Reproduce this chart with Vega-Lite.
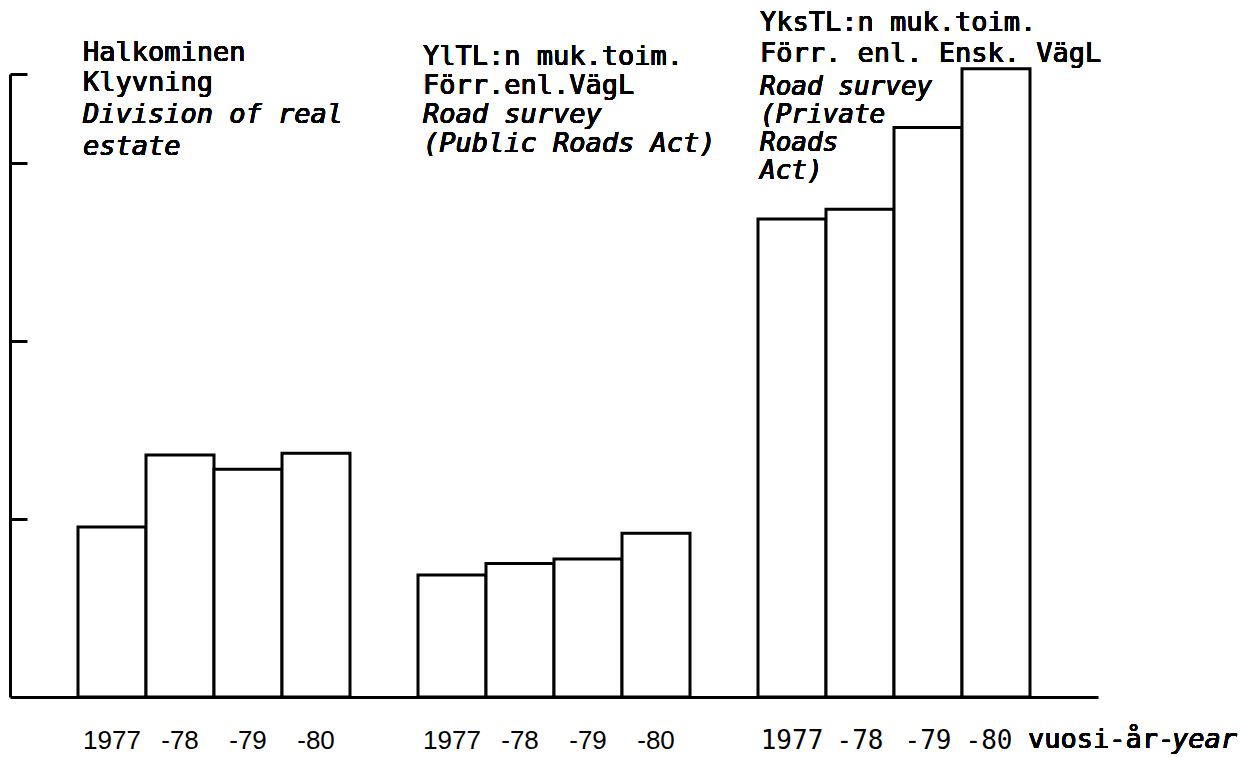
{
  "$schema": "https://vega.github.io/schema/vega-lite/v6.json",
  "autosize": "none",
  "width": 1088,
  "height": 623,
  "padding": {"left": 10, "top": 74, "right": 143, "bottom": 60},
  "background": "white",
  "config": {"view": {"stroke": null}},
  "data": {
    "values": [
      {"group": "Halkominen", "year": "1977", "bar": "1-1977", "value": 95.5},
      {"group": "Halkominen", "year": "1978", "bar": "1-1978", "value": 136},
      {"group": "Halkominen", "year": "1979", "bar": "1-1979", "value": 128},
      {"group": "Halkominen", "year": "1980", "bar": "1-1980", "value": 137},
      {"group": "YlTL", "year": "1977", "bar": "2-1977", "value": 68.5},
      {"group": "YlTL", "year": "1978", "bar": "2-1978", "value": 75},
      {"group": "YlTL", "year": "1979", "bar": "2-1979", "value": 77.5},
      {"group": "YlTL", "year": "1980", "bar": "2-1980", "value": 92},
      {"group": "YksTL", "year": "1977", "bar": "3-1977", "value": 268.5},
      {"group": "YksTL", "year": "1978", "bar": "3-1978", "value": 274},
      {"group": "YksTL", "year": "1979", "bar": "3-1979", "value": 320},
      {"group": "YksTL", "year": "1980", "bar": "3-1980", "value": 353}
    ]
  },
  "layer": [
    {
      "mark": {"type": "bar", "fill": "white", "stroke": "black", "strokeWidth": 3},
      "encoding": {
        "x": {
          "field": "bar", "type": "nominal",
          "scale": {"type": "band", "paddingInner": 0, "paddingOuter": 0,
            "domain": ["s0", "1-1977", "1-1978", "1-1979", "1-1980", "s1", "2-1977", "2-1978", "2-1979", "2-1980", "s2", "3-1977", "3-1978", "3-1979", "3-1980", "s3"]},
          "axis": {
            "title": null,
            "values": ["1-1977", "1-1978", "1-1979", "1-1980", "2-1977", "2-1978", "2-1979", "2-1980", "3-1977", "3-1978", "3-1979", "3-1980"],
            "ticks": false, "tickSize": 0, "grid": false,
            "domainWidth": 3, "domainColor": "black",
            "labelPadding": 51, "labelBaseline": "alphabetic", "labelAngle": 0,
            "labelFontSize": 26, "labelColor": "black", "labelOverlap": false,
            "labelExpr": "slice(datum.value,2)=='1977' ? '1977' : '-' + slice(datum.value,4)",
            "labelFont": {"condition": {"test": "slice(datum.value,0,1)=='3'", "value": "DejaVu Sans Mono"}, "value": "Liberation Sans"},
            "labelOffset": {"condition": {"test": "datum.value=='3-1980'", "value": -7}, "value": 0}
          }
        },
        "y": {
          "field": "value", "type": "quantitative",
          "scale": {"domain": [0, 350], "nice": false, "zero": true},
          "axis": {
            "title": null, "labels": false, "grid": false,
            "values": [100, 200, 300, 350],
            "tickSize": -17, "tickWidth": 3, "tickColor": "black",
            "domainWidth": 3, "domainColor": "black"
          }
        }
      }
    },
    {
      "mark": {"type": "text", "font": "DejaVu Sans Mono", "fontSize": 27, "align": "left", "baseline": "alphabetic", "lineHeight": 30, "dx": 5, "color": "black",
        "text": ["Halkominen", "Klyvning"]},
      "encoding": {"x": {"datum": "1-1977", "type": "nominal", "bandPosition": 0}, "y": {"datum": 357.3, "type": "quantitative"}}
    },
    {
      "mark": {"type": "text", "font": "DejaVu Sans Mono", "fontStyle": "italic", "fontSize": 27, "align": "left", "baseline": "alphabetic", "lineHeight": 32, "dx": 5, "color": "black",
        "text": ["Division of real", "estate"]},
      "encoding": {"x": {"datum": "1-1977", "type": "nominal", "bandPosition": 0}, "y": {"datum": 322.5, "type": "quantitative"}}
    },
    {
      "mark": {"type": "text", "font": "DejaVu Sans Mono", "fontSize": 27, "align": "left", "baseline": "alphabetic", "lineHeight": 29, "dx": 5, "color": "black",
        "text": ["YlTL:n muk.toim.", "Förr.enl.VägL"]},
      "encoding": {"x": {"datum": "2-1977", "type": "nominal", "bandPosition": 0}, "y": {"datum": 355, "type": "quantitative"}}
    },
    {
      "mark": {"type": "text", "font": "DejaVu Sans Mono", "fontStyle": "italic", "fontSize": 27, "align": "left", "baseline": "alphabetic", "lineHeight": 29, "dx": 5, "color": "black",
        "text": ["Road survey", "(Public Roads Act)"]},
      "encoding": {"x": {"datum": "2-1977", "type": "nominal", "bandPosition": 0}, "y": {"datum": 322.5, "type": "quantitative"}}
    },
    {
      "mark": {"type": "text", "font": "DejaVu Sans Mono", "fontSize": 27, "align": "left", "baseline": "alphabetic", "lineHeight": 31, "dx": 2, "color": "black",
        "text": ["YksTL:n muk.toim.", "Förr. enl. Ensk. VägL"]},
      "encoding": {"x": {"datum": "3-1977", "type": "nominal", "bandPosition": 0}, "y": {"datum": 374.2, "type": "quantitative"}}
    },
    {
      "mark": {"type": "text", "font": "DejaVu Sans Mono", "fontStyle": "italic", "fontSize": 26, "align": "left", "baseline": "alphabetic", "lineHeight": 28, "dx": 2, "color": "black",
        "text": ["Road survey", "(Private", "Roads", "Act)"]},
      "encoding": {"x": {"datum": "3-1977", "type": "nominal", "bandPosition": 0}, "y": {"datum": 338.2, "type": "quantitative"}}
    },
    {
      "mark": {"type": "text", "font": "DejaVu Sans Mono", "fontSize": 27, "align": "left", "baseline": "alphabetic", "dx": -2, "color": "black", "text": "vuosi-år-"},
      "encoding": {"x": {"datum": "3-1980", "type": "nominal", "bandPosition": 1}, "y": {"datum": -28.7, "type": "quantitative"}}
    },
    {
      "mark": {"type": "text", "font": "DejaVu Sans Mono", "fontStyle": "italic", "fontSize": 27, "align": "left", "baseline": "alphabetic", "dx": 142, "color": "black", "text": "year"},
      "encoding": {"x": {"datum": "3-1980", "type": "nominal", "bandPosition": 1}, "y": {"datum": -28.7, "type": "quantitative"}}
    }
  ]
}
